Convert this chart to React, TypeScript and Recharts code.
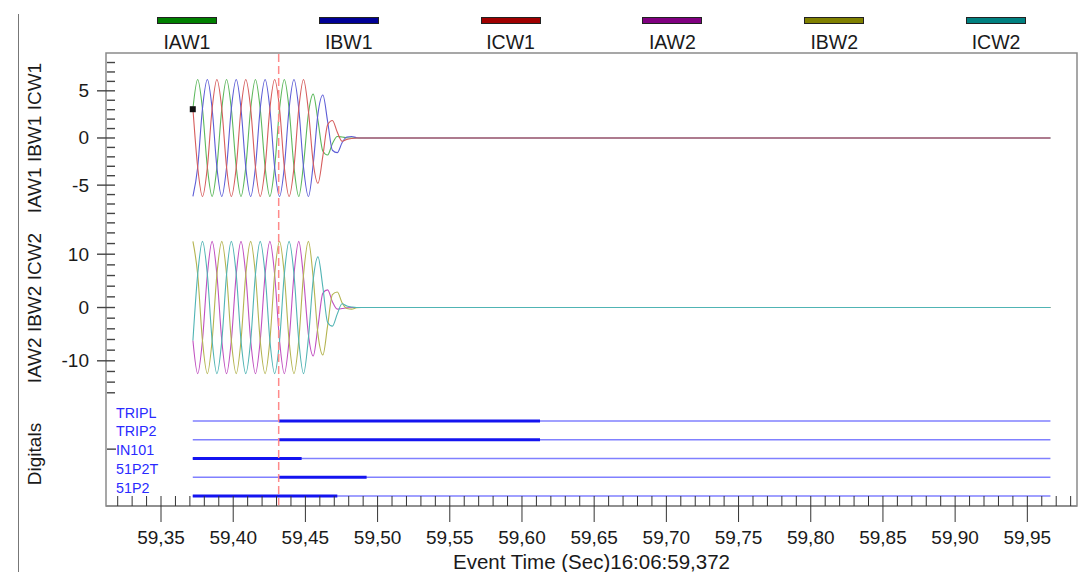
import React from 'react';
import {
  ComposedChart,
  Line,
  XAxis,
  YAxis,
  ReferenceLine,
  ReferenceArea,
  ReferenceDot,
  Legend,
} from 'recharts';

const FONT = '"Liberation Sans", Arial, Helvetica, sans-serif';

// ---- Analog samples (seconds, amps) ----
const TIME = [
  59.3721, 59.3754, 59.3787, 59.3821, 59.3854, 59.3887, 59.3921, 59.3954, 59.3987, 59.4021,
  59.4054, 59.4087, 59.4121, 59.4154, 59.4187, 59.4221, 59.4254, 59.4287, 59.4321, 59.4354,
  59.4387, 59.4421, 59.4454, 59.4487, 59.4521, 59.4554, 59.4587, 59.4621, 59.4654, 59.4687,
  59.4721, 59.4754, 59.4787, 59.4821, 59.4854, 59.4887, 59.966,
];
const IAW1 = [
  3.1, 6.2, 3.1, -3.1, -6.2, -3.1, 3.1, 6.2, 3.1, -3.1,
  -6.2, -3.1, 3.1, 6.2, 3.1, -3.1, -6.2, -3.1, 3.1, 6.2,
  3.1, -3.1, -6.2, -2.8, 2.6, 4.65, 1.85, -1.4, -1.8, -0.6,
  0.15, 0.1, 0.03, 0, 0, 0, 0,
];
const IBW1 = [
  -6.2, -3.1, 3.1, 6.2, 3.1, -3.1, -6.2, -3.1, 3.1, 6.2,
  3.1, -3.1, -6.2, -3.1, 3.1, 6.2, 3.1, -3.1, -6.2, -3.1,
  3.1, 6.2, 3.1, -3.1, -6.2, -2.8, 2.55, 4.55, 1.75, -1.3,
  -1.55, -0.5, 0.1, 0.15, 0.03, 0, 0,
];
const ICW1 = [
  3.1, -3.1, -6.2, -3.1, 3.1, 6.2, 3.1, -3.1, -6.2, -3.1,
  3.1, 6.2, 3.1, -3.1, -6.2, -3.1, 3.1, 6.2, 3.1, -3.1,
  -6.2, -3.1, 3.1, 6.2, 2.85, -2.6, -4.8, -1.9, 1.4, 1.85,
  0.6, -0.35, -0.15, -0.05, 0, 0, 0,
];
const IAW2 = [
  -6.2, -12.4, -6.2, 6.2, 12.4, 6.2, -6.2, -12.4, -6.2, 6.2,
  12.4, 6.2, -6.2, -12.4, -6.2, 6.2, 12.4, 6.2, -6.2, -12.4,
  -6.2, 6.2, 12.4, 5.6, -5.1, -9.1, -3.6, 2.7, 3.3, 1.1,
  -0.3, -0.2, -0.05, 0, 0, 0, 0,
];
const IBW2 = [
  12.4, 6.2, -6.2, -12.4, -6.2, 6.2, 12.4, 6.2, -6.2, -12.4,
  -6.2, 6.2, 12.4, 6.2, -6.2, -12.4, -6.2, 6.2, 12.4, 6.2,
  -6.2, -12.4, -6.2, 6.2, 12.4, 5.6, -5.0, -8.9, -3.4, 2.4,
  2.9, 0.9, -0.2, -0.3, -0.05, 0, 0,
];
const ICW2 = [
  -6.2, 6.2, 12.4, 6.2, -6.2, -12.4, -6.2, 6.2, 12.4, 6.2,
  -6.2, -12.4, -6.2, 6.2, 12.4, 6.2, -6.2, -12.4, -6.2, 6.2,
  12.4, 6.2, -6.2, -12.4, -5.7, 5.2, 9.5, 3.8, -2.8, -3.5,
  -1.2, 0.7, 0.3, 0.1, 0, 0, 0,
];

const ANALOG_NAMES = ['IAW1', 'IBW1', 'ICW1', 'IAW2', 'IBW2', 'ICW2'];
const ANALOG_AXIS = ['w1', 'w1', 'w1', 'w2', 'w2', 'w2'];
const LEGEND_COLORS = ['#008000', '#000096', '#a00000', '#800080', '#808000', '#008080'];
const LINE_COLORS = ['#5cb85c', '#5c5cd6', '#d65c5c', '#c050c0', '#b4b450', '#50b4b4'];

// ---- Digital channels ----
const DIG_NAMES = ['TRIPL', 'TRIP2', 'IN101', '51P2T', '51P2'];
const DIG_LEVELS = [5, 4, 3, 2, 1];
const DIG_START = 59.372;
const DIG_END = 59.966;
const DIG_ON = [59.4315, 59.4315, 59.372, 59.4315, 59.372];
const DIG_OFF = [59.6125, 59.6125, 59.4474, 59.4924, 59.4721];

// ---- Markers ----
const CURSOR_T = 59.4315;
const MARKER_T = 59.372;
const MARKER_V = 3.05;

// ---- Axes ----
const X_DOMAIN: [number, number] = [59.3119, 59.9844];
const W1_DOMAIN: [number, number] = [-39.02, 9.01];
const W2_DOMAIN: [number, number] = [-37.24, 47.75];
const DIG_DOMAIN: [number, number] = [0.467, 24.63];
const X_TICKS: number[] = [];
for (let i = 32; i <= 98; i++) X_TICKS.push(59 + i / 100);
const W1_TICKS = [-9, -8, -7, -6, -5, -4, -3, -2, -1, 0, 1, 2, 3, 4, 5, 6, 7, 8];
const W2_TICKS = [-16, -14, -12, -10, -8, -6, -4, -2, 0, 2, 4, 6, 8, 10, 12, 14];
const DIG_TICKS = [1, 2, 3, 3.5, 4, 5];

const rows = TIME.map((t, i) => ({
  t,
  IAW1: IAW1[i],
  IBW1: IBW1[i],
  ICW1: ICW1[i],
  IAW2: IAW2[i],
  IBW2: IBW2[i],
  ICW2: ICW2[i],
}));

function XTick(props: any) {
  const { x, y, payload } = props;
  const h = Math.round(payload.value * 100);
  const major = h % 5 === 0;
  return (
    <g>
      <line x1={x} x2={x} y1={y - 10} y2={major ? y + 16 : y} stroke="#333" strokeWidth={1} />
      {major && (
        <text x={x} y={y + 38} textAnchor="middle" fontSize={19} fill="#1a1a1a" fontFamily={FONT}>
          {(h / 100).toFixed(2).replace('.', ',')}
        </text>
      )}
    </g>
  );
}

// Y ticks: the tick mark itself is drawn with an absolute plot-left anchor
const PLOT_LEFT = 106;

function YTick(props: any) {
  const { y, payload, majorEvery } = props;
  const v = Number(payload.value);
  const major = Math.abs(v % majorEvery) < 1e-9;
  const x0 = major ? PLOT_LEFT - 9 : PLOT_LEFT + 1;
  return (
    <g>
      <path d={`M${x0},${y}H${PLOT_LEFT + 9}`} stroke="#444" strokeWidth={1.4} fill="none" />
      {major && (
        <text x={PLOT_LEFT - 17} y={y} textAnchor="end" dominantBaseline="central" fontSize={19} fill="#1a1a1a" fontFamily={FONT}>
          {v}
        </text>
      )}
    </g>
  );
}

function DigTick(props: any) {
  const { y, payload } = props;
  const v = Number(payload.value);
  if (v === 3.5) {
    return <path d={`M${PLOT_LEFT + 1},${y}H${PLOT_LEFT + 10}`} stroke="#444" strokeWidth={1.4} fill="none" />;
  }
  const idx = DIG_LEVELS.indexOf(v);
  return (
    <text x={PLOT_LEFT + 10} y={y - 8.5} dominantBaseline="central" fontSize={14.3} fill="#2a2aff" fontFamily={FONT}>
      {DIG_NAMES[idx]}
    </text>
  );
}

const yTitle = (text: string, cy: number) => () => (
  <text
    x={34}
    y={cy}
    transform={`rotate(-90 34 ${cy})`}
    textAnchor="middle"
    dominantBaseline="central"
    fontSize={19}
    fill="#1a1a1a"
    fontFamily={FONT}
  >
    {text}
  </text>
);

function LegendBox() {
  return (
    <div style={{ position: 'absolute', left: 106, top: 0, width: 971, height: 53, display: 'flex', fontFamily: FONT }}>
      {ANALOG_NAMES.map((n, i) => (
        <div key={n} style={{ flex: 1, position: 'relative' }}>
          <div
            style={{
              position: 'absolute',
              left: '50%',
              marginLeft: -30,
              top: 16.5,
              width: 60,
              height: 7,
              boxSizing: 'border-box',
              background: LEGEND_COLORS[i],
              border: '1px solid #222',
            }}
          />
          <div
            style={{
              position: 'absolute',
              left: 0,
              right: 0,
              top: 31,
              textAlign: 'center',
              fontSize: 19.5,
              lineHeight: '22px',
              color: '#1a1a1a',
            }}
          >
            {n}
          </div>
        </div>
      ))}
    </div>
  );
}

export default function App() {
  return (
    <div style={{ position: 'absolute', left: 0, top: 0, width: 1079, height: 572, background: '#fff', overflow: 'hidden' }}>
      <div style={{ position: 'absolute', left: 18, top: 14, width: 0, height: 560, borderLeft: '1px solid #777' }} />
      <ComposedChart
        width={1079}
        height={572}
        data={rows}
        margin={{ top: 53, right: 2, left: 103, bottom: 0 }}
        style={{ fontFamily: FONT }}
      >
        <Legend
          layout="vertical"
          align="center"
          verticalAlign="middle"
          content={() => <LegendBox />}
          wrapperStyle={{ position: 'absolute', left: 0, top: 0, width: 1079, height: 53 }}
        />
        <XAxis
          dataKey="t"
          type="number"
          domain={X_DOMAIN}
          allowDataOverflow
          ticks={X_TICKS}
          interval={0}
          height={66}
          tickSize={0}
          tickMargin={0}
          tickLine={false}
          tick={<XTick />}
          axisLine={{ stroke: '#888', strokeWidth: 1.5 }}
          label={{ value: 'Event Time (Sec)16:06:59,372', position: 'insideBottom', offset: 3, fontSize: 20.5, fill: '#1a1a1a' }}
        />
        <YAxis
          yAxisId="w1"
          type="number"
          domain={W1_DOMAIN}
          allowDataOverflow
          ticks={W1_TICKS}
          interval={0}
          width={1}
          tickSize={0}
          tickMargin={0}
          tickLine={false}
          tick={<YTick majorEvery={5} />}
          axisLine={false}
          label={{ content: yTitle('IAW1 IBW1 ICW1', 138) }}
        />
        <YAxis
          yAxisId="w2"
          type="number"
          domain={W2_DOMAIN}
          allowDataOverflow
          ticks={W2_TICKS}
          interval={0}
          width={1}
          tickSize={0}
          tickMargin={0}
          tickLine={false}
          tick={<YTick majorEvery={10} />}
          axisLine={false}
          label={{ content: yTitle('IAW2 IBW2 ICW2', 308) }}
        />
        <YAxis
          yAxisId="dig"
          type="number"
          domain={DIG_DOMAIN}
          allowDataOverflow
          ticks={DIG_TICKS}
          interval={0}
          width={1}
          tickSize={0}
          tickMargin={0}
          tickLine={false}
          tick={<DigTick />}
          axisLine={false}
          label={{ content: yTitle('Digitals', 454) }}
        />
        <ReferenceArea
          yAxisId="w1"
          x1={X_DOMAIN[0]}
          x2={X_DOMAIN[1]}
          y1={W1_DOMAIN[0]}
          y2={W1_DOMAIN[1]}
          fill="none"
          fillOpacity={0}
          stroke="#8a8a8a"
          strokeWidth={1.5}
          ifOverflow="visible"
        />
        {ANALOG_NAMES.map((n, i) => (
          <Line
            key={n}
            yAxisId={ANALOG_AXIS[i]}
            dataKey={n}
            type="monotone"
            dot={false}
            stroke={LINE_COLORS[i]}
            strokeWidth={1.1}
            isAnimationActive={false}
          />
        ))}
        {DIG_NAMES.map((n, i) => (
          <Line
            key={n + '-base'}
            yAxisId="dig"
            data={[
              { t: DIG_START, v: DIG_LEVELS[i] },
              { t: DIG_END, v: DIG_LEVELS[i] },
            ]}
            dataKey="v"
            type="linear"
            dot={false}
            stroke="#8080ff"
            strokeWidth={1.3}
            legendType="none"
            isAnimationActive={false}
          />
        ))}
        {DIG_NAMES.map((n, i) => (
          <Line
            key={n + '-on'}
            yAxisId="dig"
            data={[
              { t: DIG_ON[i], v: DIG_LEVELS[i] },
              { t: DIG_OFF[i], v: DIG_LEVELS[i] },
            ]}
            dataKey="v"
            type="linear"
            dot={false}
            stroke="#1414f0"
            strokeWidth={3}
            legendType="none"
            isAnimationActive={false}
          />
        ))}
        <ReferenceLine yAxisId="w1" x={CURSOR_T} stroke="#ff8a8a" strokeWidth={1.5} strokeDasharray="8 4" />
        <ReferenceDot
          yAxisId="w1"
          x={MARKER_T}
          y={MARKER_V}
          r={3}
          shape={(p: any) => <rect x={p.cx - 3} y={p.cy - 3} width={6} height={6} fill="#111" />}
        />
      </ComposedChart>
    </div>
  );
}
